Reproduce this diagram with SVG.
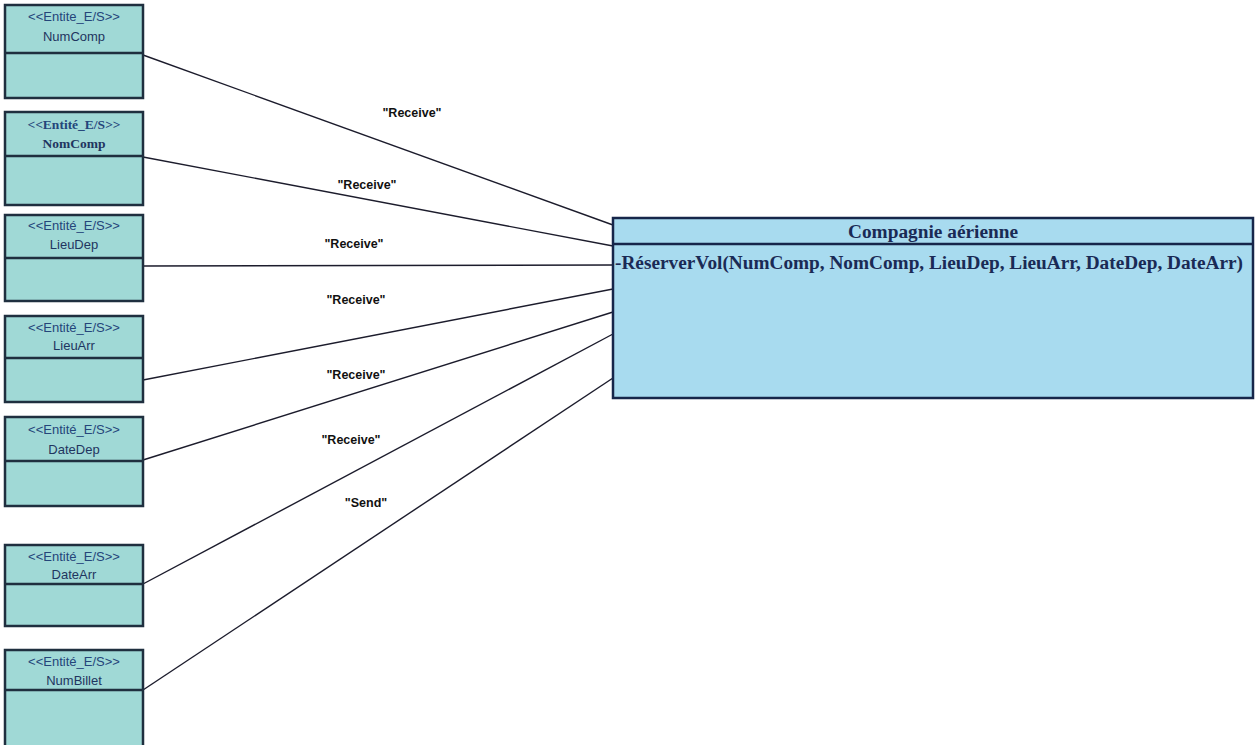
<svg xmlns="http://www.w3.org/2000/svg" width="1255" height="745" viewBox="0 0 1255 745">
  <style>
    .ent rect { fill: #a0d9d6; stroke: #1f2f3f; stroke-width: 2.5; }
    .ent line { stroke: #1f2f3f; stroke-width: 2.5; }
    .stereo { font-family: "Liberation Sans", Arial, sans-serif; font-size: 13px; fill: #24457a; text-anchor: middle; }
    .ename { font-family: "Liberation Sans", Arial, sans-serif; font-size: 13px; fill: #1f3560; text-anchor: middle; }
    .serif { font-family: "Liberation Serif", "Times New Roman", serif; font-weight: bold; font-size: 13.5px; }
    .cls rect { fill: #a8dbef; stroke: #16264a; stroke-width: 2.5; }
    .cls line { stroke: #16264a; stroke-width: 2.5; }
    .ctitle { font-family: "Liberation Serif", "Times New Roman", serif; font-weight: bold; font-size: 18px; fill: #1a2a55; text-anchor: middle; }
    .cop { font-family: "Liberation Serif", "Times New Roman", serif; font-weight: bold; font-size: 18.5px; fill: #1a2a55; }
    .conn line { stroke: #1c1c2c; stroke-width: 1.4; }
    .lbl { font-family: "Liberation Sans", Arial, sans-serif; font-weight: bold; font-size: 12.5px; fill: #111; text-anchor: middle; }
  </style>

  <rect width="1255" height="745" fill="#ffffff"/>

  <!-- connectors between the I/O entities and the class -->
  <g id="connectors" class="conn">
    <line x1="143" y1="55" x2="613" y2="225"/>
    <line x1="143" y1="157" x2="613" y2="246"/>
    <line x1="143" y1="266" x2="613" y2="265"/>
    <line x1="143" y1="380" x2="613" y2="289"/>
    <line x1="143" y1="460" x2="613" y2="312"/>
    <line x1="143" y1="584" x2="613" y2="334"/>
    <line x1="143" y1="690" x2="613" y2="378"/>
    <text class="lbl" x="412" y="117">"Receive"</text>
    <text class="lbl" x="367" y="189">"Receive"</text>
    <text class="lbl" x="354" y="248">"Receive"</text>
    <text class="lbl" x="356" y="304">"Receive"</text>
    <text class="lbl" x="356" y="379">"Receive"</text>
    <text class="lbl" x="351" y="444">"Receive"</text>
    <text class="lbl" x="366" y="507">"Send"</text>
  </g>

  <g id="NumComp" class="ent">
    <rect x="5" y="5" width="138" height="93"/>
    <line x1="5" y1="53" x2="143" y2="53"/>
    <text class="stereo" x="74" y="21">&lt;&lt;Entite_E/S&gt;&gt;</text>
    <text class="ename" x="74" y="41">NumComp</text>
  </g>

  <g id="NomComp" class="ent">
    <rect x="5" y="112" width="138" height="93"/>
    <line x1="5" y1="156" x2="143" y2="156"/>
    <text class="stereo serif" x="74" y="129">&lt;&lt;Entité_E/S&gt;&gt;</text>
    <text class="ename serif" x="74" y="148">NomComp</text>
  </g>

  <g id="LieuDep" class="ent">
    <rect x="5" y="215" width="138" height="86"/>
    <line x1="5" y1="258" x2="143" y2="258"/>
    <text class="stereo" x="74" y="230">&lt;&lt;Entité_E/S&gt;&gt;</text>
    <text class="ename" x="74" y="249">LieuDep</text>
  </g>

  <g id="LieuArr" class="ent">
    <rect x="5" y="316" width="138" height="86"/>
    <line x1="5" y1="358" x2="143" y2="358"/>
    <text class="stereo" x="74" y="332">&lt;&lt;Entité_E/S&gt;&gt;</text>
    <text class="ename" x="74" y="350">LieuArr</text>
  </g>

  <g id="DateDep" class="ent">
    <rect x="5" y="417" width="138" height="89"/>
    <line x1="5" y1="461" x2="143" y2="461"/>
    <text class="stereo" x="74" y="434">&lt;&lt;Entité_E/S&gt;&gt;</text>
    <text class="ename" x="74" y="454">DateDep</text>
  </g>

  <g id="DateArr" class="ent">
    <rect x="5" y="545" width="138" height="81"/>
    <line x1="5" y1="584" x2="143" y2="584"/>
    <text class="stereo" x="74" y="561">&lt;&lt;Entité_E/S&gt;&gt;</text>
    <text class="ename" x="74" y="579">DateArr</text>
  </g>

  <g id="NumBillet" class="ent">
    <rect x="5" y="650" width="138" height="100"/>
    <line x1="5" y1="690" x2="143" y2="690"/>
    <text class="stereo" x="74" y="666">&lt;&lt;Entité_E/S&gt;&gt;</text>
    <text class="ename" x="74" y="685">NumBillet</text>
  </g>

  <g id="CompagnieAerienne" class="cls">
    <rect x="613" y="218" width="640" height="180"/>
    <line x1="613" y1="244" x2="1253" y2="244"/>
    <text class="ctitle" x="933" y="238" textLength="170" lengthAdjust="spacingAndGlyphs">Compagnie aérienne</text>
    <text class="cop" x="615" y="269" textLength="628" lengthAdjust="spacingAndGlyphs">-RéserverVol(NumComp, NomComp, LieuDep, LieuArr, DateDep, DateArr)</text>
  </g>
</svg>
